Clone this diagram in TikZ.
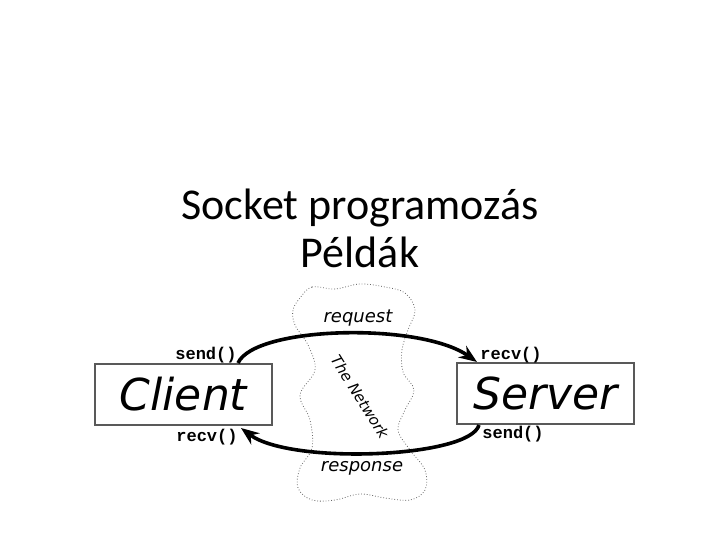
\documentclass[tikz,border=0pt]{standalone}
\usepackage{fontspec}
\setmainfont{Carlito}
\newfontfamily\labelfont{DejaVu Sans}
\newfontfamily\callfont{Liberation Mono}
\usetikzlibrary{arrows.meta}

\begin{document}
\begin{tikzpicture}[x=1pt, y=-1pt,
        hostbox/.style={draw=black!65, line width=2pt, fill=white, minimum width=177pt, minimum height=61pt, inner sep=0pt, font=\labelfont\itshape\fontsize{44}{44}\selectfont},
        call/.style={font=\callfont\bfseries\fontsize{17}{17}\selectfont, inner sep=0pt},
        msg/.style={font=\labelfont\itshape\fontsize{18}{18}\selectfont, inner sep=0pt},
        flow/.style={line width=3.6pt, -{Stealth[length=18pt, width=14pt]}}]
        \useasboundingbox (0, 0) rectangle (720, 540);
        % title
        \node[align=center, font=\fontsize{44}{48}\selectfont] (title) at (360, 228) {Socket programoz\'as\\P\'eld\'ak};
        % the network cloud
        \draw[dotted, thick, black!60] plot[smooth cycle, tension=0.6] coordinates {(300,298) (312,287) (335,289) (360,284) (385,287) (405,293) (415,310) (408,330) (402,350) (403,372) (414,390) (405,410) (398,430) (410,450) (425,470) (425,490) (410,500) (385,498) (360,494) (335,500) (312,500) (298,488) (300,468) (312,448) (310,420) (300,395) (315,370) (308,345) (295,325) (293,310)};
        \node[msg] (req) at (358, 318) {request};
        \node[msg] (resp) at (362, 468) {response};
        \node[msg, font=\labelfont\itshape\fontsize{15}{15}\selectfont, rotate=-58] (net) at (360, 397) {The Network};
        % hosts
        \node[hostbox] (client) at (183.5, 394.5) {Client};
        \node[hostbox] (server) at (545.5, 393.5) {Server};
        \node[call] (csend) at (206, 355) {send()};
        \node[call] (crecv) at (207, 437) {recv()};
        \node[call] (srecv) at (511, 355) {recv()};
        \node[call] (ssend) at (513, 434) {send()};
        % messages
        \draw[flow] ([xshift=-35pt]client.north east) .. controls (255, 326) and (420, 322) .. ([xshift=21pt]server.north west);
        \draw[flow] ([xshift=23pt]server.south west) .. controls (470, 458) and (290, 465) .. ([xshift=-32pt, yshift=-2pt]client.south east);
\end{tikzpicture}
\end{document}
